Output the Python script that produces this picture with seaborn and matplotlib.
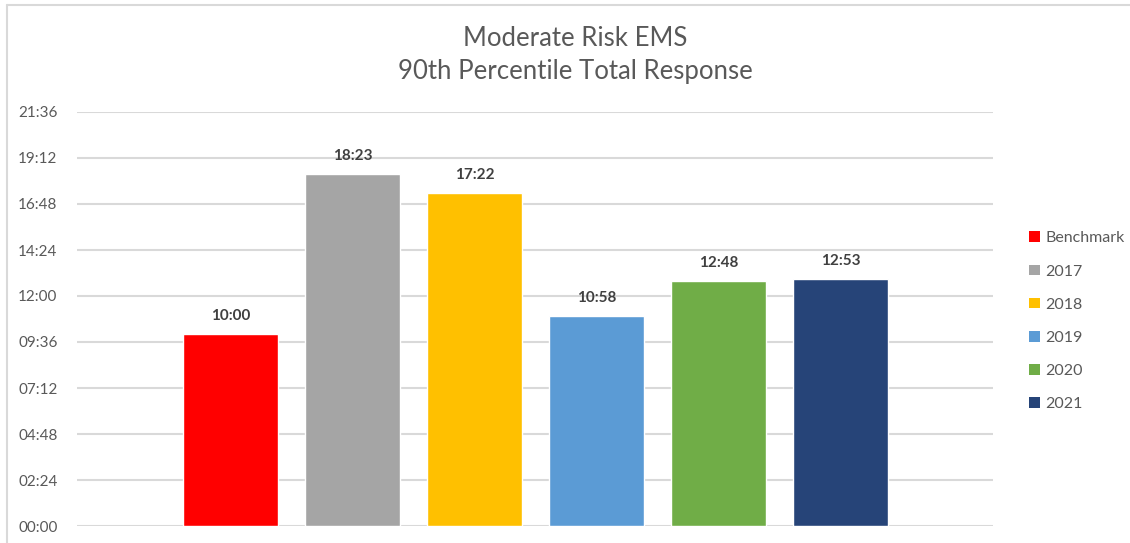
import matplotlib
matplotlib.use("Agg")
import matplotlib.pyplot as plt
from matplotlib.lines import Line2D
from matplotlib.patches import Patch
import seaborn as sns
import pandas as pd

# Moderate-risk EMS, 90th percentile total response time
categories = ["Benchmark", "2017", "2018", "2019", "2020", "2021"]
response_labels = ["10:00", "18:23", "17:22", "10:58", "12:48", "12:53"]
colors = ["#FF0000", "#A5A5A5", "#FFC000", "#5B9BD5", "#70AD47", "#264478"]
tick_labels = ["00:00", "02:24", "04:48", "07:12", "09:36", "12:00",
               "14:24", "16:48", "19:12", "21:36"]


def to_seconds(txt):
    m, s = txt.split(":")
    return int(m) * 60 + int(s)


seconds = [to_seconds(t) for t in response_labels]
tick_values = [to_seconds(t) for t in tick_labels]

df = pd.DataFrame({"category": categories, "seconds": seconds})

sns.set_theme(style="white")
plt.rcParams["font.family"] = ["Lato", "DejaVu Sans"]

fig = plt.figure(figsize=(11.30, 5.43), dpi=100)
ax = fig.add_axes([77 / 1130, 1 - 526 / 543, (993 - 77) / 1130, 414 / 543])

sns.barplot(data=df, x="category", y="seconds", hue="category",
            palette=colors, order=categories, hue_order=categories,
            width=0.78, dodge=False, legend=False, saturation=1, ax=ax)

ax.set_xlim(-1.258, 6.25)
ax.set_ylim(0, tick_values[-1])
ax.set_yticks(tick_values)
ax.set_yticklabels(tick_labels)
ax.set_xticks([])
ax.set_xlabel("")
ax.set_ylabel("")
ax.tick_params(axis="y", length=0, pad=14, labelsize=11, labelcolor="#595959")
for s in ax.spines.values():
    s.set_visible(False)
ax.yaxis.grid(True, color="#D9D9D9", linewidth=1.5)
ax.set_axisbelow(True)

for cont, lab in zip(ax.containers, response_labels):
    ax.bar_label(cont, labels=[lab], padding=8, fontsize=11,
                 fontweight="bold", color="#404040")

fig.text(575 / 1130, 1 - 39 / 543, "Moderate Risk EMS", ha="center",
         va="center", fontsize=18.5, color="#595959")
fig.text(575 / 1130, 1 - 72 / 543, "90th Percentile Total Response",
         ha="center", va="center", fontsize=18.5, color="#595959")

handles = [Patch(facecolor=c, edgecolor="none") for c in colors]
fig.legend(handles, categories, loc="upper left",
           bbox_to_anchor=(1015 / 1130, 1 - 217 / 543), frameon=False,
           fontsize=11.5, labelcolor="#595959", handlelength=0.65,
           handleheight=0.65, handletextpad=0.35, labelspacing=1.2)

# chart frame (left and top edges)
fig.add_artist(Line2D([7 / 1130, 7 / 1130], [0, 1 - 5 / 543],
                      transform=fig.transFigure, color="#D9D9D9", linewidth=1.5))
fig.add_artist(Line2D([7 / 1130, 1], [1 - 5 / 543, 1 - 5 / 543],
                      transform=fig.transFigure, color="#D9D9D9", linewidth=1.5))

fig.savefig("out.png", dpi=100)
